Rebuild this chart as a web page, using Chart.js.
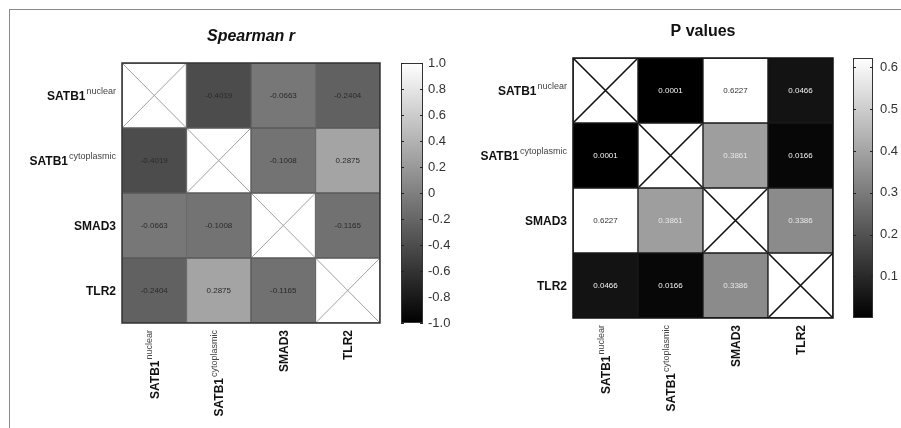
<!DOCTYPE html>
<html>
<head>
<meta charset="utf-8">
<title>Spearman r and P values</title>
<script src="https://cdn.jsdelivr.net/npm/chart.js@4.4.1/dist/chart.umd.min.js"></script>
<style>
  html, body { margin: 0; padding: 0; background: #ffffff; }
  #wrap { position: relative; width: 901px; height: 428px; overflow: hidden; background: #ffffff; }
  #frame { position: absolute; left: 9px; top: 9px; width: 900px; height: 430px;
           border-left: 1px solid #8a8a8a; border-top: 1px solid #8a8a8a; }
  canvas { position: absolute; top: 0; }
  #rChart { left: 0; width: 470px; height: 428px; }
  #pChart { left: 450px; width: 451px; height: 428px; }
</style>
</head>
<body>
<div id="wrap">
  <div id="frame"></div>
  <canvas id="rChart" width="470" height="428"></canvas>
  <canvas id="pChart" width="451" height="428"></canvas>
</div>
<script>
const FONT = '"Liberation Sans", Arial, Helvetica, sans-serif';
Chart.defaults.font.family = FONT;

// Variables (rows = columns), with their superscript qualifiers
const VARIABLES = ['SATB1', 'SATB1', 'SMAD3', 'TLR2'];
const SUPERSCRIPTS = ['nuclear', 'cytoplasmic', '', ''];

// Correlation matrix (diagonal left empty)
const SPEARMAN_R = [
  [null,    -0.4019, -0.0663, -0.2404],
  [-0.4019, null,    -0.1008,  0.2875],
  [-0.0663, -0.1008, null,    -0.1165],
  [-0.2404,  0.2875, -0.1165, null]
];

// Matching P values
const P_VALUES = [
  [null,   0.0001, 0.6227, 0.0466],
  [0.0001, null,   0.3861, 0.0166],
  [0.6227, 0.3861, null,   0.3386],
  [0.0466, 0.0166, 0.3386, null]
];

// Colour-scale ranges and colour-bar ticks
const R_RANGE = [-1, 1];
const P_RANGE = [0.0001, 0.6227];
const R_TICKS = [1, 0.8, 0.6, 0.4, 0.2, 0, -0.2, -0.4, -0.6, -0.8, -1];
const R_TICK_LABELS = ['1.0', '0.8', '0.6', '0.4', '0.2', '0', '-0.2', '-0.4', '-0.6', '-0.8', '-1.0'];
const P_TICKS = [0.6, 0.5, 0.4, 0.3, 0.2, 0.1];
const P_TICK_LABELS = ['0.6', '0.5', '0.4', '0.3', '0.2', '0.1'];

function grayLevel(v, range) {
  const t = Math.max(0, Math.min(1, (v - range[0]) / (range[1] - range[0])));
  return Math.round(t * 255);
}
function grayAt(v, range) {
  const g = grayLevel(v, range);
  return `rgb(${g},${g},${g})`;
}

// Draws "MAIN^sup" so that it ends at local x = 0, vertically centred on local y = 0
function drawSupLabel(ctx, main, sup) {
  ctx.textBaseline = 'alphabetic';
  ctx.textAlign = 'left';
  ctx.font = 'bold 12px ' + FONT;
  const mainW = ctx.measureText(main).width;
  ctx.font = '9px ' + FONT;
  const supW = sup ? ctx.measureText(sup).width + 1 : 0;
  ctx.font = 'bold 12px ' + FONT;
  ctx.fillStyle = '#111';
  ctx.fillText(main, -(mainW + supW), 4.3);
  if (sup) {
    ctx.font = '9px ' + FONT;
    ctx.fillStyle = '#444';
    ctx.fillText(sup, -supW + 1, -2);
  }
}

const heatDecor = {
  id: 'heatDecor',
  afterDatasetsDraw(chart, args, o) {
    const ctx = chart.ctx;
    const area = chart.chartArea;

    // Cell values and crossed-out diagonal cells
    o.matrix.forEach((row, i) => {
      const meta = chart.getDatasetMeta(i);
      row.forEach((v, j) => {
        const el = meta.data[j];
        const left = el.x - el.width / 2, right = el.x + el.width / 2;
        const top = Math.min(el.y, el.base), bottom = Math.max(el.y, el.base);
        ctx.save();
        if (v === null) {
          ctx.strokeStyle = o.crossColor;
          ctx.lineWidth = o.crossWidth;
          ctx.beginPath();
          ctx.moveTo(left + 1, top + 1); ctx.lineTo(right - 1, bottom - 1);
          ctx.moveTo(right - 1, top + 1); ctx.lineTo(left + 1, bottom - 1);
          ctx.stroke();
        } else {
          ctx.font = '8px ' + FONT;
          ctx.textAlign = 'center';
          ctx.textBaseline = 'middle';
          ctx.fillStyle = o.textColor(v);
          ctx.fillText(v.toFixed(4), el.x, (top + bottom) / 2);
        }
        ctx.restore();
      });
    });

    // Plot frame
    ctx.save();
    ctx.strokeStyle = o.frameColor;
    ctx.lineWidth = 1.5;
    ctx.strokeRect(area.left, area.top, area.right - area.left, area.bottom - area.top);
    ctx.restore();

    // Colour bar
    const cb = chart.scales.cb;
    const yTop = cb.getPixelForValue(o.range[1]);
    const yBot = cb.getPixelForValue(o.range[0]);
    const x0 = area.right + o.barGap;
    const grad = ctx.createLinearGradient(0, yTop, 0, yBot);
    grad.addColorStop(0, '#ffffff');
    grad.addColorStop(1, '#000000');
    ctx.save();
    ctx.fillStyle = grad;
    ctx.fillRect(x0, yTop, o.barWidth, yBot - yTop);
    ctx.strokeStyle = '#333';
    ctx.lineWidth = 1;
    ctx.strokeRect(x0 + 0.5, yTop + 0.5, o.barWidth - 1, yBot - yTop - 1);
    ctx.strokeStyle = '#222';
    o.ticks.forEach(v => {
      const y = Math.round(cb.getPixelForValue(v)) + 0.5;
      ctx.beginPath();
      ctx.moveTo(x0, y); ctx.lineTo(x0 + 3, y);
      ctx.moveTo(x0 + o.barWidth - 3, y); ctx.lineTo(x0 + o.barWidth, y);
      ctx.stroke();
    });
    ctx.restore();

    // Title
    ctx.save();
    ctx.font = o.titleFont;
    ctx.fillStyle = '#111';
    ctx.textAlign = 'center';
    ctx.textBaseline = 'middle';
    ctx.fillText(o.title, (area.left + area.right) / 2, o.titleY);
    ctx.restore();

    // Row labels (left of the grid) and column labels (rotated, below the grid)
    const xs = chart.scales.x, ys = chart.scales.y;
    VARIABLES.forEach((name, k) => {
      ctx.save();
      ctx.translate(area.left - 6, ys.getPixelForValue(k + 0.5));
      drawSupLabel(ctx, name, SUPERSCRIPTS[k]);
      ctx.restore();

      ctx.save();
      ctx.translate(xs.getPixelForValue(k), area.bottom + 7);
      ctx.rotate(-Math.PI / 2);
      drawSupLabel(ctx, name, SUPERSCRIPTS[k]);
      ctx.restore();
    });
  }
};

function makeHeatmap(canvas, cfg) {
  const categories = VARIABLES.map((v, j) => v + SUPERSCRIPTS[j]);
  const datasets = cfg.matrix.map((row, i) => ({
    data: categories.map(() => [i, i + 1]),
    backgroundColor: row.map(v => (v === null ? '#ffffff' : grayAt(v, cfg.range))),
    borderColor: cfg.cellBorder,
    borderWidth: 1,
    borderSkipped: false,
    grouped: false,
    barPercentage: 1,
    categoryPercentage: 1,
    yAxisID: 'y'
  }));

  return new Chart(canvas, {
    type: 'bar',
    data: { labels: categories, datasets },
    plugins: [heatDecor],
    options: {
      responsive: false,
      animation: false,
      events: [],
      layout: { padding: cfg.padding },
      plugins: {
        legend: { display: false },
        tooltip: { enabled: false },
        heatDecor: {
          matrix: cfg.matrix,
          range: cfg.range,
          ticks: cfg.ticks,
          barGap: cfg.barGap,
          barWidth: cfg.barWidth,
          crossColor: cfg.crossColor,
          crossWidth: cfg.crossWidth,
          frameColor: cfg.frameColor,
          textColor: cfg.textColor,
          title: cfg.title,
          titleFont: cfg.titleFont,
          titleY: cfg.titleY
        }
      },
      scales: {
        x: { type: 'category', display: false, offset: true },
        y: { type: 'linear', display: false, min: 0, max: 4, reverse: true },
        cb: {
          type: 'linear',
          position: 'right',
          min: cfg.range[0],
          max: cfg.range[1],
          grid: { display: false },
          border: { display: false },
          ticks: {
            autoSkip: false,
            padding: cfg.tickPad,
            color: '#333',
            font: { size: 13 },
            callback: (value, index) => cfg.tickLabels[index]
          },
          afterBuildTicks: scale => { scale.ticks = cfg.ticks.map(v => ({ value: v })); },
          afterFit: scale => { scale.width = cfg.cbWidth; }
        }
      }
    }
  });
}

// Spearman r heat map
makeHeatmap(document.getElementById('rChart'), {
  matrix: SPEARMAN_R,
  range: R_RANGE,
  ticks: R_TICKS,
  tickLabels: R_TICK_LABELS,
  padding: { left: 122, right: 0, top: 63, bottom: 105 },
  cbWidth: 90,
  barGap: 21,
  barWidth: 22,
  tickPad: 40,
  cellBorder: '#5a5a5a',
  crossColor: '#a0a0a0',
  crossWidth: 1,
  frameColor: '#333',
  textColor: () => '#2a2a2a',
  title: 'Spearman r',
  titleFont: 'italic bold 16px ' + FONT,
  titleY: 37
});

// P value heat map
makeHeatmap(document.getElementById('pChart'), {
  matrix: P_VALUES,
  range: P_RANGE,
  ticks: P_TICKS,
  tickLabels: P_TICK_LABELS,
  padding: { left: 123, right: 0, top: 58, bottom: 110 },
  cbWidth: 68,
  barGap: 20,
  barWidth: 20,
  tickPad: 39,
  cellBorder: '#1a1a1a',
  crossColor: '#111',
  crossWidth: 1.6,
  frameColor: '#111',
  textColor: v => (v > 0.5 ? '#333' : (v > 0.2 ? '#e8e8e8' : '#f4f4f4')),
  title: 'P values',
  titleFont: 'bold 16px ' + FONT,
  titleY: 32
});
</script>
</body>
</html>
